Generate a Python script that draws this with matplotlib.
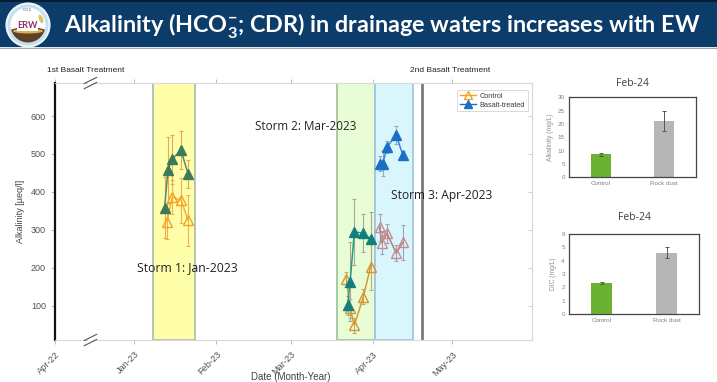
import matplotlib
matplotlib.use("Agg")
import matplotlib.pyplot as plt
from matplotlib.patches import Rectangle, Circle, Wedge, Ellipse
from matplotlib.lines import Line2D

plt.rcParams['font.family'] = ['Liberation Sans', 'DejaVu Sans']
plt.rcParams['mathtext.fontset'] = 'custom'
plt.rcParams['mathtext.rm'] = 'Lato:bold'
plt.rcParams['mathtext.it'] = 'Lato:bold'
plt.rcParams['mathtext.bf'] = 'Lato:bold'

# ---------------- data ----------------
# days since 2023-01-01 (Apr-22 drawn at -30 across an axis break)
tick_days = [-30, 0, 31, 59, 90, 120]
tick_labels = ['Apr-22', 'Jan-23', 'Feb-23', 'Mar-23', 'Apr-23', 'May-23']
y_ticks = [100, 200, 300, 400, 500, 600]

s1_days_b = [11.4, 12.7, 14.2, 17.6, 20.3]
s1_basalt = [359, 458, 486, 510, 447]
s1_basalt_err = [80, 86, 64, 50, 37]
s1_days_c = [12.3, 14.3, 17.7, 20.3]
s1_control = [322, 386, 378, 325]
s1_control_err = [45, 45, 60, 68]

s2_days_b = [80.5, 81.5, 83.1, 86.5, 89.2]
s2_basalt = [102, 164, 295, 291, 277]
s2_basalt_err = [25, 105, 87, 50, 70]
s2_days_c = [80.1, 81.5, 83.1, 86.5, 89.2]
s2_control = [170, 93, 49, 124, 203]
s2_control_err = [20, 25, 20, 20, 60]

s3_days_b = [92.6, 93.8, 95.4, 98.9, 101.4]
s3_basalt = [474, 474, 518, 550, 497]
s3_basalt_err = [20, 33, 15, 24, 10]
s3_days_c = [92.6, 93.5, 95.4, 98.9, 101.4]
s3_control = [307, 266, 291, 239, 267]
s3_control_err = [35, 30, 25, 20, 45]

storm_spans = [(7.2, 23.0), (76.6, 91.0), (91.0, 105.3)]
storm_labels = ['Storm 1: Jan-2023', 'Storm 2: Mar-2023', 'Storm 3: Apr-2023']
treatment2_day = 108.8

bar_cats = ['Control', 'Rock dust']
alk_vals = [8.6, 21.1]
alk_err = [0.7, 3.9]
dic_vals = [2.33, 4.59]
dic_err = [0.09, 0.4]

W, H = 717, 382
fig = plt.figure(figsize=(W / 100, H / 100), dpi=100)
fig.patch.set_facecolor('white')

# background / header in pixel coordinates (y downwards)
bg = fig.add_axes([0, 0, 1, 1])
bg.set_xlim(0, W)
bg.set_ylim(H, 0)
bg.axis('off')
bg.add_patch(Rectangle((0, 0), W, 47, facecolor='#0c3c6a', edgecolor='none'))
bg.add_patch(Rectangle((0, 0), W, 1.5, facecolor='#0a1c30', edgecolor='none'))
bg.add_patch(Rectangle((0, 47), W, 1.2, facecolor='#dfe7ef', edgecolor='none'))
bg.add_patch(Rectangle((0, 48.2), W, 1.0, facecolor='#9aa7b4', edgecolor='none'))
# logo
bg.add_patch(Circle((28, 25), 21.5, facecolor='#c4dff0', edgecolor='#eef6fb', lw=1.5))
bg.add_patch(Circle((28, 25), 17.5, facecolor='white', edgecolor='none'))
bg.add_patch(Wedge((28, 25), 17.5, 15, 165, facecolor='#5e4026', edgecolor='none'))
bg.add_patch(Ellipse((28, 31), 30, 5, facecolor='#d8b450', edgecolor='none'))
bg.add_patch(Ellipse((41, 19), 4, 9, facecolor='#e0c25a', edgecolor='none', angle=-20))
bg.add_patch(Rectangle((17, 19.5), 21, 11, facecolor='white', edgecolor='none'))
bg.text(27.5, 25, 'ERW', color='#8e2f6e', fontsize=6.5, fontweight='bold',
        ha='center', va='center', family=['Lato', 'DejaVu Sans'])
bg.text(27, 10.5, 'CO$_2$', color='#3a5a80', fontsize=3, ha='center', va='center')

title = bg.text(64, 26, 'Alkalinity (HCO$_{3}^{-}$; CDR) in drainage waters increases with EW',
                color='white', fontsize=17, fontweight='bold', ha='left', va='center',
                family=['Lato', 'DejaVu Sans'])

# ---------------- main chart ----------------
ax = fig.add_axes([55 / W, 1 - 340 / H, (532 - 55) / W, (340 - 83) / H])
ax.set_xlim(-30, 150.2)
ax.set_ylim(10, 687)

span_styles = [('#ffffaa', '#a9b7b4'), ('#e8fdd5', '#9cbf9c'), ('#daf6fd', '#9ec2e6')]
for (a, b), (fc, ec) in zip(storm_spans, span_styles):
    ax.add_patch(Rectangle((a, 10), b - a, 677, facecolor=fc, edgecolor=ec, lw=1.2, zorder=1))
ax.axvline(treatment2_day, color='#7a7a7a', lw=2, zorder=2)


def series(x, y, e, color, ecolor, lcolor, filled):
    ax.errorbar(x, y, yerr=e, fmt='none', ecolor=ecolor, elinewidth=0.8, capsize=1.5,
                capthick=0.8, zorder=3)
    ax.plot(x, y, '-', color=lcolor, lw=1.1, zorder=4)
    ax.plot(x, y, '^', ms=7, color=color, mfc=(color if filled else 'none'),
            mec=color, mew=1.0, ls='none', zorder=5)


series(s1_days_c, s1_control, s1_control_err, '#f4a024', '#f0b050', '#f4b040', False)
series(s1_days_b, s1_basalt, s1_basalt_err, '#3c7a5c', '#e8a850', '#5a8a6a', True)
series(s2_days_c, s2_control, s2_control_err, '#d89430', '#c8a868', '#d49a3a', False)
series(s2_days_b, s2_basalt, s2_basalt_err, '#137f7c', '#a8a890', '#2a9a84', True)
series(s3_days_c, s3_control, s3_control_err, '#c88c8c', '#a0a0b8', '#b87a72', False)
series(s3_days_b, s3_basalt, s3_basalt_err, '#1a6fc4', '#9aa8c0', '#3a88d0', True)

# legend
h1 = Line2D([], [], color='#f4a024', marker='^', mfc='none', ms=5.5, lw=1)
h2 = Line2D([], [], color='#1a6fc4', marker='^', ms=5.5, lw=1)
leg = ax.legend([h1, h2], ['Control', 'Basalt-treated'], loc='upper right',
                bbox_to_anchor=(0.997, 0.985), fontsize=5.3, frameon=True,
                handlelength=2.2, handletextpad=0.4, borderpad=0.3, labelspacing=0.2)
leg.get_frame().set_edgecolor('#c8c8c8')
leg.get_frame().set_linewidth(0.6)
leg.get_frame().set_boxstyle('round,pad=0.1')
for t in leg.get_texts():
    t.set_color('#404040')

# storm labels
storm_pos = [(1.1, 200), (45.4, 572), (96.9, 390)]
storm_texts = []
for (xx, yy), lab in zip(storm_pos, storm_labels):
    storm_texts.append(ax.text(xx, yy, lab, fontsize=10, color='#222222', ha='left',
                               va='center', family=['Open Sans', 'DejaVu Sans'], zorder=6))

# axes styling
ax.set_xticks(tick_days)
ax.set_xticklabels(tick_labels, rotation=45, ha='right', rotation_mode='anchor',
                   fontsize=6.6, color='#505050')
ax.set_yticks(y_ticks)
ax.set_yticklabels([str(v) for v in y_ticks], fontsize=6.5, color='#505050')
ax.tick_params(axis='both', direction='out', length=3, width=0.6, color='#b0b0b0')
ax.tick_params(axis='x', top=True, pad=4)
ax.spines['left'].set_color('#111111')
ax.spines['left'].set_linewidth(1.6)
for s in ['top', 'bottom', 'right']:
    ax.spines[s].set_color('#d8d8d8')
    ax.spines[s].set_linewidth(0.8)
ax.set_ylabel('Alkalinity [µeq/l]', fontsize=6.5, color='#404040', labelpad=4)

ax2 = ax.twinx()
ax2.set_ylim(ax.get_ylim())
ax2.set_yticks(y_ticks)
ax2.tick_params(axis='y', direction='in', length=3, width=0.6, color='#c8c8c8',
                labelright=False)
for s in ax2.spines.values():
    s.set_visible(False)

# axis break marks
xb = (-16.6 + 30) / 180.2
for yb in (0.0, 1.0):
    ax.add_patch(Rectangle((xb - 0.006, yb - 0.006), 0.012, 0.012, transform=ax.transAxes,
                           facecolor='white', edgecolor='none', clip_on=False, zorder=9))
    for off in (-0.010, 0.010):
        ax.plot([xb - 0.013, xb + 0.013], [yb + off - 0.012, yb + off + 0.012],
                transform=ax.transAxes, color='#555555', lw=0.8, clip_on=False, zorder=10)

bg.text(291, 377.5, 'Date (Month-Year)', fontsize=7, color='#404040', ha='center', va='center')
bg.text(86, 70, '1st Basalt Treatment', fontsize=6, color='#222222', ha='center', va='center')
bg.text(450, 70, '2nd Basalt Treatment', fontsize=6, color='#222222', ha='center', va='center')


# ---------------- bar charts ----------------
def bar_panel(rect, vals, errs, ymax, ystep, ylabel, ttl, ttl_y):
    b = fig.add_axes(rect)
    b.bar([0, 1], vals, width=0.31, color=['#6cb232', '#b6b6b6'], zorder=2)
    b.errorbar([0, 1], vals, yerr=errs, fmt='none', ecolor='#555555', elinewidth=0.7,
               capsize=1.5, capthick=0.7, zorder=3)
    b.set_xlim(-0.5, 1.5)
    b.set_ylim(0, ymax)
    b.set_yticks(list(range(0, ymax + 1, ystep)))
    b.set_xticks([0, 1])
    b.set_xticklabels(bar_cats)
    b.tick_params(axis='both', length=0, labelsize=4.5, labelcolor='#808080', pad=3)
    for s in b.spines.values():
        s.set_color('#444444')
        s.set_linewidth(0.9)
    b.set_ylabel(ylabel, fontsize=4.8, color='#909090', labelpad=3)
    bg.text((rect[0] + rect[2] / 2) * W, ttl_y, ttl, fontsize=7.5, color='#404040',
            ha='center', va='center', family=['Open Sans', 'DejaVu Sans'])
    return b


bar_panel([569 / W, 1 - 177.3 / H, 127 / W, 80 / H], alk_vals, alk_err, 30, 5,
          'Alkalinity (mg/L)', 'Feb-24', 83)
bar_panel([569 / W, 1 - 314 / H, 130 / W, 80 / H], dic_vals, dic_err, 6, 1,
          'DIC (mg/L)', 'Feb-24', 217)

# fit text widths to the reference
fig.canvas.draw()
r = fig.canvas.get_renderer()


def fit(t, target):
    w = t.get_window_extent(r).width
    t.set_fontsize(t.get_fontsize() * target / w)


fit(title, 638)
for t in storm_texts:
    fit(t, 101)

fig.savefig('out.png', dpi=100)
